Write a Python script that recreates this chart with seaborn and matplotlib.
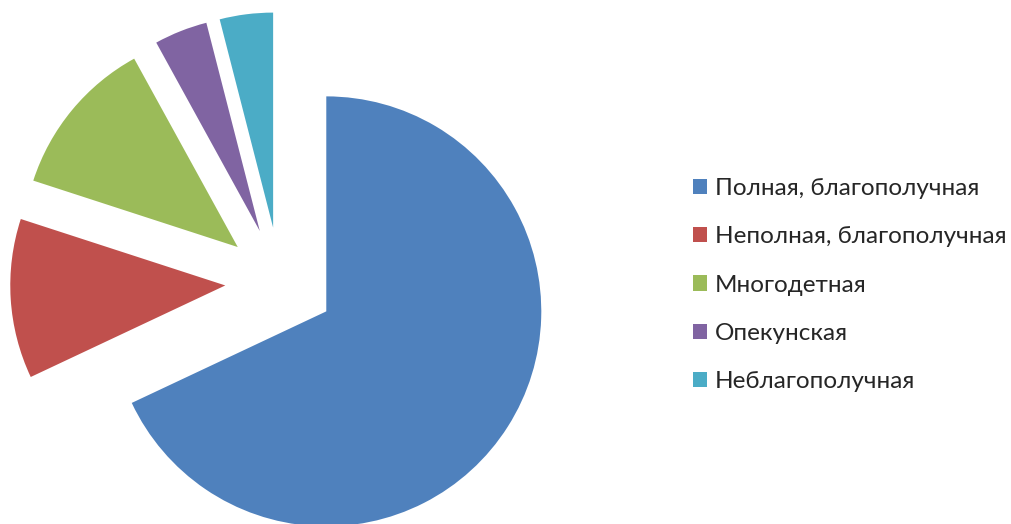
import matplotlib
matplotlib.use("Agg")
import matplotlib.pyplot as plt
import seaborn as sns
from matplotlib.patches import Patch

# family types (shares, %)
categories = [
    "Полная, благополучная",
    "Неполная, благополучная",
    "Многодетная",
    "Опекунская",
    "Неблагополучная",
]
shares = [68, 12, 12, 4, 4]
colors = ["#4F81BD", "#C0504D", "#9BBB59", "#8064A2", "#4BACC6"]

sns.set_theme(style="white")
plt.rcParams["font.family"] = ["Lato", "DejaVu Sans"]

fig = plt.figure(figsize=(10.11, 5.24), dpi=100)
ax = fig.add_axes([0, 0, 1, 1])

ax.pie(
    shares,
    colors=colors,
    startangle=90,
    counterclock=False,
    explode=[0.255] * len(shares),
    radius=1.0,
    wedgeprops={"linewidth": 0},
)

# pie centre at pixel (280, 282), radius 215 px
scale = 215.0
ax.set_xlim(-280 / scale, (1011 - 280) / scale)
ax.set_ylim((282 - 524) / scale, 282 / scale)
ax.set_aspect("auto")
ax.axis("off")

handles = [Patch(facecolor=c, edgecolor="none") for c in colors]
fig.legend(
    handles,
    categories,
    loc="center left",
    bbox_to_anchor=(0.685, 0.456),
    frameon=False,
    fontsize=17.5,
    handlelength=0.58,
    handleheight=0.58,
    handletextpad=0.35,
    labelspacing=1.12,
    borderpad=0,
    borderaxespad=0,
)

fig.savefig("out.png", dpi=100)
